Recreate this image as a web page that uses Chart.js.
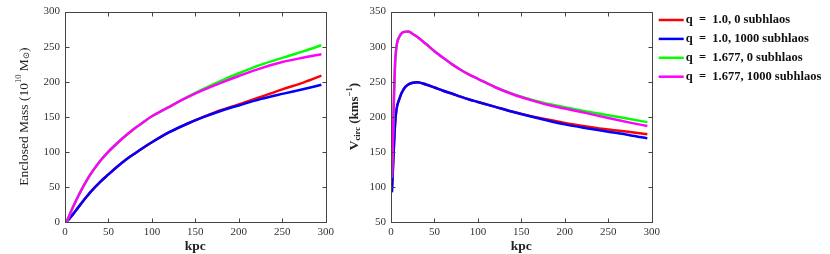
<!DOCTYPE html>
<html>
<head>
<meta charset="utf-8">
<script src="https://cdn.jsdelivr.net/npm/chart.js@4.4.1/dist/chart.umd.min.js"></script>
<style>
    html, body { margin: 0; padding: 0; background: #fff; }
    #wrap { position: relative; width: 830px; height: 254px; }
    #massBox { position: absolute; left: 0; top: 0; width: 340px; height: 254px; }
    #velBox { position: absolute; left: 340px; top: 0; width: 490px; height: 254px; }
</style>
</head>
<body>
<div id="wrap">
    <div id="massBox"><canvas id="massChart" width="340" height="254"></canvas></div>
    <div id="velBox"><canvas id="velChart" width="490" height="254"></canvas></div>
</div>
<script>
// series: q=1.0 no subhalos, q=1.0 with 1000, q=1.677 no subhalos, q=1.677 with 1000
const seriesLabels = ["q  =  1.0, 0 subhlaos", "q  =  1.0, 1000 subhlaos", "q  =  1.677, 0 subhlaos", "q  =  1.677, 1000 subhlaos"];
const seriesColors = ["#ff0000", "#0000ff", "#00ff00", "#ff00ff"];
const kpcTicks = [0, 50, 100, 150, 200, 250, 300];

// enclosed mass (1e10 Msun) vs radius (kpc)
const massRadius = [2, 5, 10, 15, 20, 25, 30, 40, 50, 60, 70, 80, 90, 100, 120, 140, 160, 180, 200, 225, 250, 275, 295];
const massQ1 =         [0, 4.4, 11.9, 20.1, 28.1, 35.9, 43.3, 56.3, 67.5, 78.4, 88.4, 97.1, 105.5, 113.4, 127.8, 139.5, 150, 159.5, 167.5, 178, 189, 199, 208.5];
const massQ1Sub =      [0, 4.4, 11.9, 20.1, 28.1, 35.9, 43.3, 56.3, 67.5, 78.4, 88.4, 97.1, 105.5, 113.4, 127.8, 139.5, 149.6, 158.4, 166, 175, 182.5, 189.5, 195.5];
const massQ1677 =      [0, 9, 23, 36, 48, 59, 69, 86, 100, 112, 123, 133, 142, 150.5, 164, 177.5, 190, 201.5, 212, 224, 234, 243.5, 252];
const massQ1677Sub =   [0, 9, 23, 36, 48, 59, 69, 86, 100, 112, 123, 133, 142, 150.5, 164, 177, 188.5, 198.5, 208, 219, 228, 234.5, 239];

// circular velocity (km/s) vs radius (kpc)
const velRadius = [1, 5, 10, 15, 20, 25, 30, 40, 50, 60, 70, 80, 90, 100, 120, 140, 160, 180, 200, 225, 250, 275, 295];
const velQ1 =          [92, 195, 226.6, 240, 246, 248.5, 249, 246, 241.6, 237, 233, 228.5, 224.5, 221, 214, 207, 201, 195.8, 191, 186, 181.5, 178, 175];
const velQ1Sub =       [92, 195, 226.6, 240, 246, 248.5, 249, 246, 241.6, 237, 233, 228.5, 224.5, 221, 214, 207, 200.5, 194.5, 189, 183.5, 178.5, 173.5, 169];
const velQ1677 =       [113, 283, 315, 321, 321.5, 318, 314, 304, 293.5, 284, 275, 267, 260, 254, 242, 232.5, 225, 218.5, 213.5, 207.5, 202, 196.5, 192.2];
const velQ1677Sub =    [113, 283, 315, 321, 321.5, 318, 314, 304, 293.5, 284, 275, 267, 260, 254, 242, 232, 224, 217, 211.5, 205, 198, 191.5, 186.6];

const serif = "'Liberation Serif', 'DejaVu Serif', serif";
const tickFont = { family: serif, size: 11 };

const toPoints = (xs, ys) => xs.map((x, i) => ({ x, y: ys[i] }));

const makeDatasets = (xs, lists) => lists.map((ys, i) => ({
    label: seriesLabels[i],
    data: toPoints(xs, ys),
    borderColor: seriesColors[i],
    backgroundColor: seriesColors[i],
    borderWidth: 2.5,
    pointRadius: 0,
    cubicInterpolationMode: 'monotone',
    order: 4 - i
}));

// rich text helper: parts are [text, size, dy, bold]
const drawRich = (ctx, parts, cx, cy, rotate) => {
    ctx.save();
    ctx.translate(cx, cy);
    if (rotate) ctx.rotate(-Math.PI / 2);
    let total = 0;
    parts.forEach(p => {
        ctx.font = (p[3] ? 'bold ' : '') + p[1] + 'px ' + serif;
        total += ctx.measureText(p[0]).width;
    });
    let x = -total / 2;
    ctx.fillStyle = '#222';
    ctx.textBaseline = 'middle';
    ctx.textAlign = 'left';
    parts.forEach(p => {
        ctx.font = (p[3] ? 'bold ' : '') + p[1] + 'px ' + serif;
        ctx.fillText(p[0], x, p[2]);
        x += ctx.measureText(p[0]).width;
    });
    ctx.restore();
};

const frameTicks = {
    id: 'frameTicks',
    afterDraw(chart, args, opts) {
        const { ctx, chartArea: a, scales: { x, y } } = chart;
        ctx.save();
        ctx.strokeStyle = '#444';
        ctx.lineWidth = 1;
        const L = Math.round(a.left) + 0.5, R = Math.round(a.right) + 0.5,
            T = Math.round(a.top) + 0.5, B = Math.round(a.bottom) + 0.5;
        ctx.strokeRect(L, T, R - L, B - T);
        const len = 4;
        ctx.beginPath();
        x.ticks.forEach(t => {
            const px = Math.round(x.getPixelForValue(t.value)) + 0.5;
            ctx.moveTo(px, B); ctx.lineTo(px, B - len);
            ctx.moveTo(px, T); ctx.lineTo(px, T + len);
        });
        y.ticks.forEach(t => {
            const py = Math.round(y.getPixelForValue(t.value)) + 0.5;
            ctx.moveTo(L, py); ctx.lineTo(L + len, py);
            ctx.moveTo(R, py); ctx.lineTo(R - len, py);
        });
        ctx.stroke();

        // legend to the right of the plot box
        if (opts.legend) {
            chart.data.datasets.forEach((ds, i) => {
                const cy = 20 + i * 18.9;
                const lx = a.right + 7;
                ctx.strokeStyle = ds.borderColor;
                ctx.lineWidth = 2.5;
                ctx.beginPath();
                ctx.moveTo(lx, cy); ctx.lineTo(lx + 25, cy);
                ctx.stroke();
                ctx.fillStyle = '#111';
                ctx.font = 'bold 12.5px ' + serif;
                ctx.textBaseline = 'middle';
                ctx.textAlign = 'left';
                ctx.fillText(ds.label, lx + 27, cy);
            });
        }
        ctx.restore();
        drawRich(ctx, [['kpc', 13.5, 0, true]], (a.left + a.right) / 2, 247, false);
        drawRich(ctx, opts.yTitle, opts.yTitleX, (a.top + a.bottom) / 2, true);
    }
};

const baseScales = (ymin, ymax, yWidth) => ({
    x: {
        type: 'linear', min: 0, max: 300,
        afterBuildTicks: s => { s.ticks = kpcTicks.map(v => ({ value: v })); },
        ticks: { font: tickFont, color: '#333', padding: 4, maxRotation: 0 },
        grid: { display: false, drawTicks: false },
        border: { display: false },
        afterFit: s => { s.height = 32.3; }
    },
    y: {
        type: 'linear', min: ymin, max: ymax,
        ticks: { stepSize: 50, font: tickFont, color: '#333', padding: 5 },
        grid: { display: false, drawTicks: false },
        border: { display: false },
        afterFit: s => { s.width = yWidth; }
    }
});

new Chart(document.getElementById('massChart'), {
    type: 'line',
    data: { datasets: makeDatasets(massRadius, [massQ1, massQ1Sub, massQ1677, massQ1677Sub]) },
    options: {
        responsive: false,
        animation: false,
        devicePixelRatio: 1,
        layout: { padding: { left: 0, right: 14.3, top: 9.5, bottom: 0 } },
        scales: baseScales(0, 300, 65),
        plugins: {
            legend: { display: false },
            tooltip: { enabled: false },
            frameTicks: {
                legend: false,
                yTitleX: 24,
                yTitle: [['Enclosed Mass (10', 13.5, 0, false], ['10', 8.5, -5, false], [' M', 13.5, 0, false], ['\u2299', 8.5, 3, false], [')', 13.5, 0, false]]
            }
        }
    },
    plugins: [frameTicks]
});

new Chart(document.getElementById('velChart'), {
    type: 'line',
    data: { datasets: makeDatasets(velRadius, [velQ1, velQ1Sub, velQ1677, velQ1677Sub]) },
    options: {
        responsive: false,
        animation: false,
        devicePixelRatio: 1,
        layout: { padding: { left: 0, right: 178.3, top: 9.5, bottom: 0 } },
        scales: baseScales(50, 350, 51),
        plugins: {
            legend: { display: false },
            tooltip: { enabled: false },
            frameTicks: {
                legend: true,
                yTitleX: 15,
                yTitle: [['V', 13.5, 0, true], ['circ', 8.5, 3, true], [' (kms', 13, 0, true], ['\u22121', 8.5, -5, true], [')', 13, 0, true]]
            }
        }
    },
    plugins: [frameTicks]
});
</script>
</body>
</html>
